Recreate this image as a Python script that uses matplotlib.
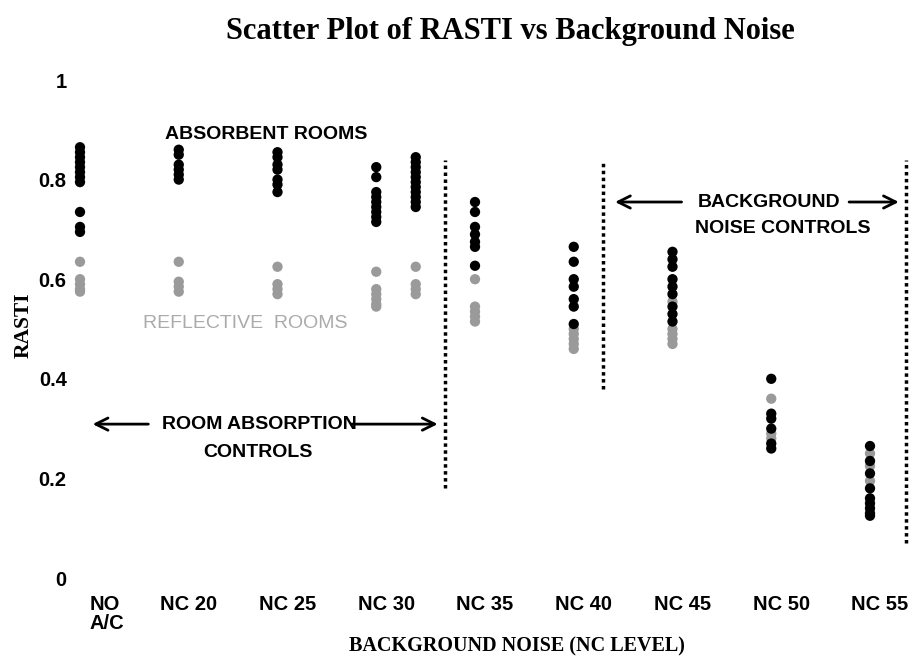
import numpy as np
import matplotlib.pyplot as plt

# category labels along the bottom
categories = ["NO\nA/C", "NC 20", "NC 25", "NC 30", "NC 35", "NC 40", "NC 45", "NC 50", "NC 55"]

# column positions (NC 30 has two columns)
col_x = [0, 1, 2, 3, 3.4, 4, 5, 6, 7, 8]

# absorbent rooms (black dots)
absorbent = [
    [0.865, 0.855, 0.845, 0.835, 0.825, 0.815, 0.805, 0.795, 0.735, 0.705, 0.695],
    [0.86, 0.85, 0.83, 0.82, 0.81, 0.80],
    [0.855, 0.845, 0.83, 0.82, 0.80, 0.79, 0.775],
    [0.825, 0.805, 0.775, 0.765, 0.755, 0.745, 0.735, 0.725, 0.715],
    [0.845, 0.835, 0.825, 0.815, 0.805, 0.795, 0.785, 0.775, 0.765, 0.755, 0.745],
    [0.755, 0.735, 0.705, 0.69, 0.675, 0.665, 0.627],
    [0.665, 0.635, 0.60, 0.585, 0.56, 0.545, 0.51],
    [0.655, 0.64, 0.625, 0.60, 0.585, 0.57, 0.545, 0.53, 0.515],
    [0.40, 0.33, 0.32, 0.30, 0.27, 0.26],
    [0.265, 0.235, 0.21, 0.18, 0.16, 0.15, 0.14, 0.13, 0.125],
]

# reflective rooms (grey dots)
reflective = [
    [0.635, 0.60, 0.59, 0.58, 0.575],
    [0.635, 0.595, 0.585, 0.575],
    [0.625, 0.59, 0.58, 0.57],
    [0.615, 0.58, 0.57, 0.56, 0.55, 0.545],
    [0.625, 0.59, 0.58, 0.57],
    [0.60, 0.545, 0.535, 0.525, 0.515],
    [0.50, 0.49, 0.48, 0.47, 0.46],
    [0.555, 0.50, 0.49, 0.48, 0.47],
    [0.36, 0.29, 0.28],
    [0.25, 0.225, 0.195],
]

fig = plt.figure(figsize=(9.09, 6.56), dpi=100)
W, H = 909, 656
# axes placed in pixels: x=0 at px 80, 98.75 px per category; y=0 at px 578, y=1 at px 80
left_px, right_px = 75, 906
ax = fig.add_axes([left_px / W, (H - 578) / H, (right_px - left_px) / W, 498 / H])
ax.set_xlim((left_px - 80) / 98.75, (right_px - 80) / 98.75)
ax.set_ylim(0, 1)

for x, ys in zip(col_x, reflective):
    ax.scatter([x] * len(ys), ys, s=55, color="#9a9a9a", edgecolors="none", clip_on=False, zorder=2)
for x, ys in zip(col_x, absorbent):
    ax.scatter([x] * len(ys), ys, s=55, color="black", edgecolors="none", clip_on=False, zorder=3)

for sp in ax.spines.values():
    sp.set_visible(False)
ax.set_yticks([0, 0.2, 0.4, 0.6, 0.8, 1])
ax.set_yticklabels(["0", "0.2", "0.4", "0.6", "0.8", "1"])
ax.set_xticks(np.arange(len(categories)) + 0.1)
ax.set_xticklabels(categories, linespacing=1.05)
ax.tick_params(length=0, labelsize=14.5)
ax.tick_params(axis="y", pad=6)
ax.tick_params(axis="x", pad=12)
for lab in ax.get_xticklabels() + ax.get_yticklabels():
    lab.set_fontfamily("Liberation Sans")
    lab.set_fontweight("bold")
first = ax.get_xticklabels()[0]
first.set_horizontalalignment("left")
first.set_multialignment("left")

serif = "Liberation Serif"
fig.text(510 / W, 1 - 32 / H, "Scatter Plot of RASTI vs Background Noise", ha="center", va="center",
         family=serif, weight="bold", fontsize=22)
fig.text(517 / W, 1 - 646 / H, "BACKGROUND NOISE (NC LEVEL)", ha="center", va="center",
         family=serif, weight="bold", fontsize=14.5)
fig.text(24 / W, 1 - 325 / H, "RASTI", ha="center", va="center", rotation=90,
         family=serif, weight="bold", fontsize=15.5)

# dotted separators
dot = dict(color="black", lw=2.5, linestyle=(0, (1, 1)), clip_on=False)
ax.plot([3.70, 3.70], [0.18, 0.84], **dot)
ax.plot([5.30, 5.30], [0.38, 0.84], **dot)
ax.plot([8.36, 8.36], [0.07, 0.84], **dot)

sans = dict(family="Liberation Sans", weight="bold", fontsize=14)
ax.text(1.89, 0.89, "ABSORBENT ROOMS", ha="center", va="center", **sans)
ax.text(1.67, 0.512, "REFLECTIVE  ROOMS", ha="center", va="center", family="Liberation Sans",
        fontsize=14, color="#ababab")

arr = dict(arrowstyle="->", lw=2, color="black", mutation_scale=22)
ax.text(1.82, 0.309, "ROOM ABSORPTION", ha="center", va="center", **sans)
ax.text(1.80, 0.252, "CONTROLS", ha="center", va="center", **sans)
ax.annotate("", xy=(0.10, 0.309), xytext=(0.72, 0.309), arrowprops=arr, annotation_clip=False)
ax.annotate("", xy=(3.65, 0.309), xytext=(2.72, 0.309), arrowprops=arr, annotation_clip=False)

ax.text(6.98, 0.755, "BACKGROUND", ha="center", va="center", **sans)
ax.text(7.12, 0.702, "NOISE CONTROLS", ha="center", va="center", **sans)
ax.annotate("", xy=(5.39, 0.755), xytext=(6.12, 0.755), arrowprops=arr, annotation_clip=False)
ax.annotate("", xy=(8.32, 0.755), xytext=(7.76, 0.755), arrowprops=arr, annotation_clip=False)

fig.savefig("out.png", dpi=100)
